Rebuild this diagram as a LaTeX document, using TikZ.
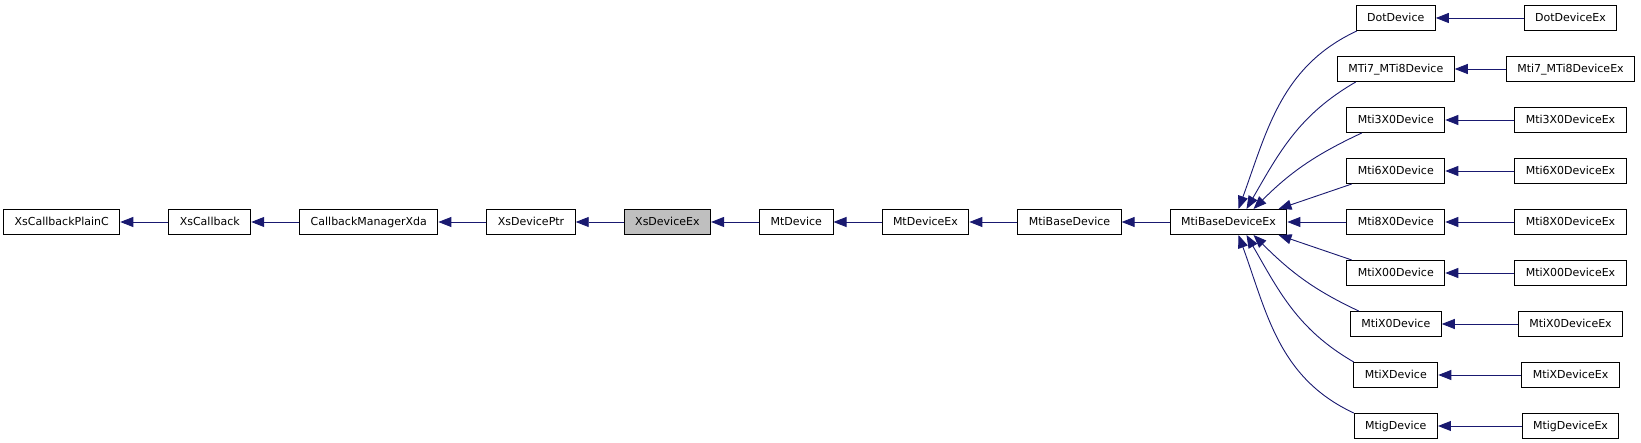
\documentclass[tikz,border=0pt]{standalone}
\usepackage{fontspec}
\setmainfont{DejaVu Sans}
\usetikzlibrary{positioning, arrows.meta}
\definecolor{edgeblue}{RGB}{25,25,112}
\tikzstyle{cls} = [rectangle,
draw=black,
line width=1pt,
minimum height=25pt,
inner xsep=11pt,
inner ysep=0pt,
text height=8.5pt,
text depth=2.2pt,
font=\fontsize{11}{13}\selectfont]
\tikzstyle{current} = [cls, fill=black!25]
\tikzstyle{arrow} = [edgeblue, line width=0.9pt, -{Triangle[length=13pt,width=10pt]}]

\begin{document}
\begin{tikzpicture}[node distance=51pt]
    \useasboundingbox (0,0) rectangle (1641pt,-443pt);

    % main chain
    \node (base) [cls] at (1228.5pt,-222pt) {MtiBaseDeviceEx};
    \node (mtibase) [cls, left=48pt of base] {MtiBaseDevice};
    \node (mtdeviceex) [cls, left=48pt of mtibase] {MtDeviceEx};
    \node (mtdevice) [cls, left=48pt of mtdeviceex] {MtDevice};
    \node (xsdeviceex) [current, left=48pt of mtdevice] {XsDeviceEx};
    \node (xsdeviceptr) [cls, left=48pt of xsdeviceex] {XsDevicePtr};
    \node (cbmanager) [cls, left=48pt of xsdeviceptr] {CallbackManagerXda};
    \node (xscallback) [cls, left=48pt of cbmanager] {XsCallback};
    \node (plainc) [cls, left=48pt of xscallback] {XsCallbackPlainC};

    % device column
    \node (mtieightx) [cls] at (1395.75pt,-222pt) {Mti8X0Device};
    \node (mtisixx) [cls, above of=mtieightx] {Mti6X0Device};
    \node (mtithreex) [cls, above of=mtisixx] {Mti3X0Device};
    \node (mtiseven) [cls, above of=mtithreex] {MTi7\_MTi8Device};
    \node (dot) [cls, above of=mtiseven] {DotDevice};
    \node (mtixoo) [cls, below of=mtieightx] {MtiX00Device};
    \node (mtixo) [cls, below of=mtixoo] {MtiX0Device};
    \node (mtix) [cls, below of=mtixo] {MtiXDevice};
    \node (mtig) [cls, below of=mtix] {MtigDevice};

    % Ex column
    \node (dotex) [cls, node distance=174.75pt, right of=dot] {DotDeviceEx};
    \node (mtisevenex) [cls, node distance=174.75pt, right of=mtiseven] {Mti7\_MTi8DeviceEx};
    \node (mtithreexex) [cls, node distance=174.75pt, right of=mtithreex] {Mti3X0DeviceEx};
    \node (mtisixxex) [cls, node distance=174.75pt, right of=mtisixx] {Mti6X0DeviceEx};
    \node (mtieightxex) [cls, node distance=174.75pt, right of=mtieightx] {Mti8X0DeviceEx};
    \node (mtixooex) [cls, node distance=174.75pt, right of=mtixoo] {MtiX00DeviceEx};
    \node (mtixoex) [cls, node distance=174.75pt, right of=mtixo] {MtiX0DeviceEx};
    \node (mtixex) [cls, node distance=174.75pt, right of=mtix] {MtiXDeviceEx};
    \node (mtigex) [cls, node distance=174.75pt, right of=mtig] {MtigDeviceEx};

    \draw [arrow] (xscallback) -- (plainc);
    \draw [arrow] (cbmanager) -- (xscallback);
    \draw [arrow] (xsdeviceptr) -- (cbmanager);
    \draw [arrow] (xsdeviceex) -- (xsdeviceptr);
    \draw [arrow] (mtdevice) -- (xsdeviceex);
    \draw [arrow] (mtdeviceex) -- (mtdevice);
    \draw [arrow] (mtibase) -- (mtdeviceex);
    \draw [arrow] (base) -- (mtibase);

    \draw [arrow] ([xshift=-39pt]dot.south) to[out=205,in=70] ([xshift=10pt]base.north);
    \draw [arrow] ([xshift=-40pt]mtiseven.south) to[out=210,in=60] ([xshift=18pt]base.north);
    \draw [arrow] ([xshift=-34pt]mtithreex.south) to[out=205,in=45] ([xshift=25pt]base.north);
    \draw [arrow] ([xshift=-44pt]mtisixx.south) -- ([xshift=50pt]base.north);
    \draw [arrow] (mtieightx) -- (base);
    \draw [arrow] ([xshift=-44pt]mtixoo.north) -- ([xshift=50pt]base.south);
    \draw [arrow] ([xshift=-37pt]mtixo.north) to[out=155,in=-45] ([xshift=25pt]base.south);
    \draw [arrow] ([xshift=-42pt]mtix.north) to[out=150,in=-60] ([xshift=18pt]base.south);
    \draw [arrow] ([xshift=-42pt]mtig.north) to[out=155,in=-70] ([xshift=10pt]base.south);

    \draw [arrow] (dotex) -- (dot);
    \draw [arrow] (mtisevenex) -- (mtiseven);
    \draw [arrow] (mtithreexex) -- (mtithreex);
    \draw [arrow] (mtisixxex) -- (mtisixx);
    \draw [arrow] (mtieightxex) -- (mtieightx);
    \draw [arrow] (mtixooex) -- (mtixoo);
    \draw [arrow] (mtixoex) -- (mtixo);
    \draw [arrow] (mtixex) -- (mtix);
    \draw [arrow] (mtigex) -- (mtig);

\end{tikzpicture}
\end{document}
